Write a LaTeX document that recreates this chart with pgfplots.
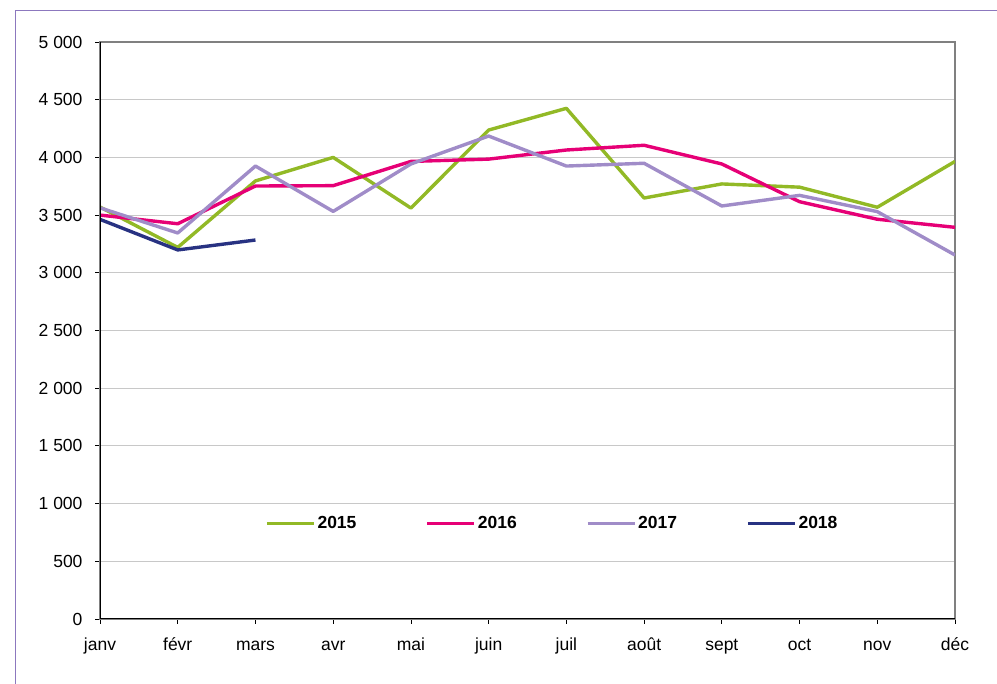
\documentclass[border=0pt]{standalone}
\usepackage{fontspec}
\setmainfont{Liberation Sans}
\usepackage{pgfplots}
\pgfplotsset{compat=1.18}
\definecolor{c15}{RGB}{146,185,38}
\definecolor{c16}{RGB}{230,0,118}
\definecolor{c17}{RGB}{160,140,200}
\definecolor{c18}{RGB}{40,50,130}
\definecolor{framepurple}{RGB}{140,120,190}
\definecolor{gridgray}{RGB}{200,200,200}
\definecolor{boxgray}{RGB}{128,128,128}
\begin{document}
\begin{tikzpicture}
\useasboundingbox (0pt,0pt) rectangle (997pt,684pt);
\draw[color=framepurple, line width=1pt] (15.5pt,0pt) -- (15.5pt,673.5pt) -- (997pt,673.5pt);
\begin{axis}[
  at={(100pt,65pt)}, anchor=south west, scale only axis,
  width=855pt, height=577pt,
  xmin=0, xmax=11, ymin=0, ymax=5000,
  xtick={0,...,11},
  xticklabels={janv,févr,mars,avr,mai,juin,juil,août,sept,oct,nov,déc},
  ytick={0,500,...,5000},
  yticklabels={0,500,1 000,1 500,2 000,2 500,3 000,3 500,4 000,4 500,5 000},
  scaled y ticks=false,
  tick pos=left, tick align=outside, major tick length=5pt,
  tick style={black, line width=0.8pt},
  ymajorgrids, grid style={color=gridgray, line width=0.8pt},
  axis line style={color=boxgray, line width=1.2pt},
  tick label style={font=\fontsize{17.5}{20}\selectfont},
  xticklabel style={anchor=base, yshift=-27pt},
  yticklabel style={xshift=-9pt},
  legend columns=4,
  legend style={at={(0.529,0.166)}, anchor=center, draw=none, fill=none,
    font=\bfseries\fontsize{17.5}{20}\selectfont,
    /tikz/every odd column/.append style={column sep=0pt},
    /tikz/every even column/.append style={column sep=67pt}},
  legend image code/.code={\draw[#1, line width=3.4pt] (0pt,0pt) -- (47pt,0pt);},
  every axis plot/.append style={line width=3.4pt, line join=round},
]
\addplot[c15] coordinates {(0,3570) (1,3220) (2,3796) (3,4000) (4,3561) (5,4237) (6,4425) (7,3648) (8,3770) (9,3742) (10,3568) (11,3965)};
\addlegendentry{2015}
\addplot[c16] coordinates {(0,3500) (1,3425) (2,3752) (3,3755) (4,3965) (5,3985) (6,4064) (7,4105) (8,3943) (9,3616) (10,3464) (11,3394)};
\addlegendentry{2016}
\addplot[c17] coordinates {(0,3563) (1,3345) (2,3925) (3,3532) (4,3943) (5,4185) (6,3925) (7,3949) (8,3579) (9,3671) (10,3530) (11,3154)};
\addlegendentry{2017}
\addplot[c18] coordinates {(0,3463) (1,3198) (2,3284)};
\addlegendentry{2018}
\draw[black, line width=1.2pt] (rel axis cs:0,1) -- (rel axis cs:0,0) -- (rel axis cs:1,0);
\end{axis}
\end{tikzpicture}
\end{document}
